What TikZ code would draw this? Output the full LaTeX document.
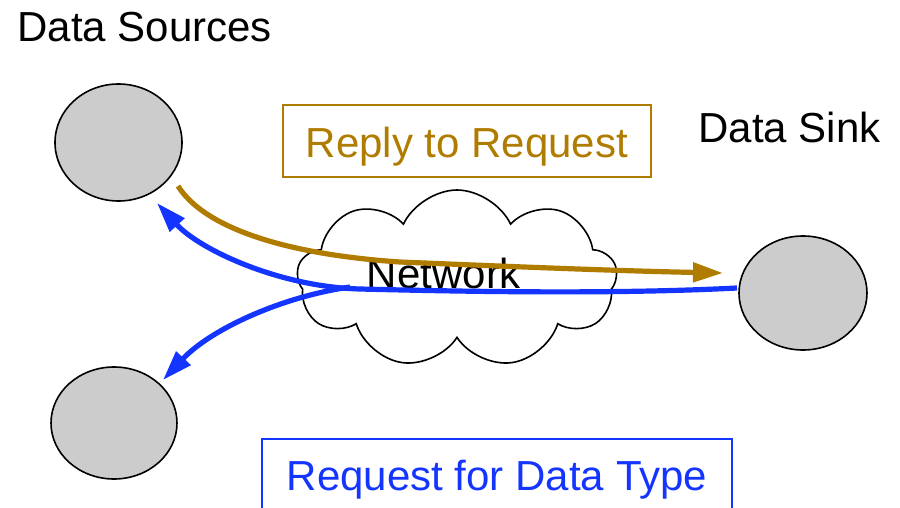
\documentclass[tikz,border=0pt]{standalone}
\usepackage{fontspec}
\setmainfont{Liberation Sans}
\usetikzlibrary{shapes.symbols,shapes.geometric,arrows.meta}
\definecolor{brownc}{RGB}{176,124,0}
\definecolor{bluec}{RGB}{20,52,255}
\definecolor{grayc}{RGB}{204,204,204}
\tikzset{
  big/.style={font=\fontsize{21pt}{25pt}\selectfont},
  host/.style={ellipse, draw=black, line width=0.8pt, fill=grayc, inner sep=0pt},
  labelbox/.style={big, draw, line width=0.8pt, inner xsep=0pt, inner ysep=0pt, anchor=base},
  flow/.style={line width=2.6pt, -{Triangle[length=15pt,width=9.5pt]}},
}
\begin{document}
\begin{tikzpicture}[x=0.5pt,y=-0.5pt]
\useasboundingbox (0,0) rectangle (900,508);
\clip (0,0) rectangle (900,508);
% titles
\node[big, anchor=base west, inner sep=0pt] (srclabel) at (17,42) {Data Sources};
\node[big, anchor=base west, inner sep=0pt] (sinklabel) at (698,143) {Data Sink};
% hosts
\node[host, minimum width=63.5pt, minimum height=58.5pt] (src1) at (118.5,142.5) {};
\node[host, minimum width=63pt, minimum height=56pt] (src2) at (114,423) {};
\node[host, minimum width=64pt, minimum height=57pt] (sink) at (803,293) {};
% cloud
\node[cloud, draw=black, line width=0.8pt, fill=white, cloud puffs=9, cloud puff arc=130, aspect=1.8,
      minimum width=160pt, minimum height=89pt, inner sep=0pt] (net) at (457,279) {};
\node[big, inner sep=0pt, anchor=base] (nettext) at (444,288) {Network};
% boxes
\node[labelbox, draw=brownc, text=brownc, minimum width=184pt, text height=26pt, text depth=10pt] (reply) at (467,157) {Reply to Request};
\node[labelbox, draw=bluec, text=bluec, minimum width=235pt, text height=25.5pt, text depth=20pt] (request) at (497,490) {Request for Data Type};
% connector end points
\coordinate (b0) at (178,186);
\coordinate (bm) at (400,262);
\coordinate (b1) at (723,273);
\coordinate (r0) at (737,288);
\coordinate (rm) at (360,289);
\coordinate (r1) at (157,203);
\coordinate (q0) at (350,287);
\coordinate (q1) at (163,380);
% arrows
\draw[flow, draw=brownc] (b0) .. controls +(25,40) and +(-120,-8) .. (bm) .. controls +(120,5) and +(-100,-2) .. (b1);
\draw[flow, draw=bluec] (r0) .. controls (620,294) and (480,292) .. (rm) .. controls (280,287) and (200,250) .. (r1);
\draw[flow, draw=bluec] (q0) .. controls (280,297) and (210,330) .. (q1);
\end{tikzpicture}
\end{document}
